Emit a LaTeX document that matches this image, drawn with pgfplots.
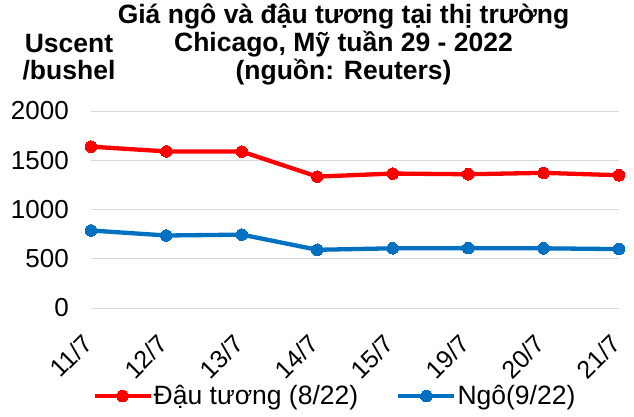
\documentclass[border=0pt]{standalone}
\usepackage{pgfplots}
\pgfplotsset{compat=1.18}
\usepackage{fontspec}
\setmainfont{Liberation Sans}
\definecolor{cred}{HTML}{FF0000}
\definecolor{cblue}{HTML}{0070C0}
\definecolor{cgrid}{HTML}{D9D9D9}
\begin{document}
\begin{tikzpicture}
\path[use as bounding box] (-91pt,-108pt) rectangle (543pt,308pt);
\begin{axis}[
  scale only axis,
  width=528pt, height=197pt,
  xmin=0, xmax=7, ymin=0, ymax=2000,
  xtick={0,...,7},
  xticklabels={11/7,12/7,13/7,14/7,15/7,19/7,20/7,21/7},
  ytick={0,500,1000,1500,2000},
  ymajorgrids,
  grid style={draw=cgrid, line width=1pt},
  axis line style={draw=none},
  major tick length=0pt,
  /pgf/number format/assume math mode=true,
  /pgf/number format/1000 sep={},
  yticklabel style={font=\fontsize{26}{30}\selectfont, inner sep=0pt, anchor=east, xshift=-22pt},
  xticklabel style={font=\fontsize{25}{30}\selectfont, inner sep=0pt, xshift=3.5pt, yshift=-38pt, rotate=45, anchor=south east},
  legend columns=2,
  legend style={at={(0.461,-0.447)}, anchor=center, draw=none, fill=none,
    font=\fontsize{26.5}{30}\selectfont,
    nodes={inner sep=1pt},
    /tikz/every even column/.append style={column sep=37pt},
    inner sep=0pt},
  legend cell align=left,
  legend image code/.code={\draw[mark repeat=2,mark phase=2] plot coordinates {(0pt,0pt)(28pt,0pt)(56pt,0pt)};},
]
\addplot[color=cred, line width=4.3pt, mark=*, mark size=5.8pt, mark options={line width=0pt}] coordinates {
(0,1638) (1,1590) (2,1588) (3,1334) (4,1365) (5,1358) (6,1372) (7,1348)};
\addlegendentry{Đậu tương (8/22)}
\addplot[color=cblue, line width=4.3pt, mark=*, mark size=5.8pt, mark options={line width=0pt}] coordinates {
(0,787) (1,736) (2,745) (3,591) (4,606) (5,608) (6,606) (7,598)};
\addlegendentry{Ngô(9/22)}
\end{axis}
\node[align=center, inner sep=0pt, font=\bfseries\fontsize{26.5}{28}\selectfont] at (252.5pt,264pt)
  {Giá ngô và đậu tương tại thị trường\\Chicago, Mỹ tuần 29 - 2022\\(nguồn: Reuters)};
\node[align=center, inner sep=0pt, font=\bfseries\fontsize{26.5}{27}\selectfont] at (-22pt,251pt)
  {Uscent\\/bushel};
\end{tikzpicture}
\end{document}
